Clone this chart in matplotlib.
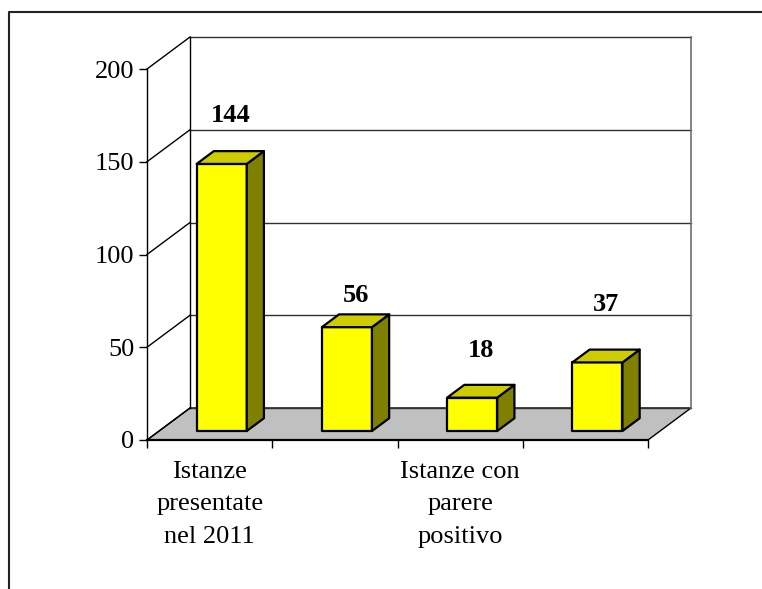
import matplotlib
matplotlib.use("Agg")
import matplotlib.pyplot as plt
from matplotlib.patches import Polygon
from matplotlib.lines import Line2D

# data
categories = ["Istanze\npresentate\nnel 2011", "", "Istanze con\nparere\npositivo", ""]
values = [144, 56, 18, 37]
y_ticks = [0, 50, 100, 150, 200]
label_nudge = [19, 10, 18.5, 24]

plt.rcParams['font.family'] = ['Liberation Serif', 'DejaVu Serif']

W, H = 762, 589
fig = plt.figure(figsize=(W / 100, H / 100), dpi=100)
ax = fig.add_axes([147 / W, 149 / H, 501 / W, 371 / H])
ax.set_xlim(0, len(values))
ax.set_ylim(0, 200)

# depth of the 3D box (in data units)
dx = 43 / 125.25
dy = 32 / 1.855

# floor
ax.add_patch(Polygon([(0, 0), (dx, dy), (4 + dx, dy), (4, 0)], closed=True,
                     facecolor='#C0C0C0', edgecolor='black', lw=1, clip_on=False, zorder=1))

# back wall + left wall grid lines
for v in y_ticks:
    ax.plot([dx, 4 + dx], [v + dy, v + dy], color='#303030', lw=1, clip_on=False, zorder=1)
    ax.plot([0, dx], [v, v + dy], color='black', lw=1, clip_on=False, zorder=1)
ax.plot([dx, dx], [dy, 200 + dy], color='black', lw=1, clip_on=False, zorder=1)
ax.plot([4 + dx, 4 + dx], [dy, 200 + dy], color='#707070', lw=1.2, clip_on=False, zorder=1)

# bars
front = 0.28   # depth position of bar front
bdepth = 0.4   # bar depth fraction
bw = 0.4       # bar width
bdx, bdy = dx * bdepth, dy * bdepth
ox, oy = dx * front, dy * front
for i, v in enumerate(values):
    x0 = i + 0.5 - bw / 2 + ox
    x1 = x0 + bw
    y0 = oy
    y1 = v + oy
    kw = dict(closed=True, edgecolor='black', lw=1.6, joinstyle='round', clip_on=False, zorder=3)
    ax.add_patch(Polygon([(x0, y0), (x0, y1), (x1, y1), (x1, y0)], facecolor='#FFFF00', **kw))
    ax.add_patch(Polygon([(x1, y0), (x1 + bdx, y0 + bdy), (x1 + bdx, y1 + bdy), (x1, y1)],
                         facecolor='#808000', **kw))
    ax.add_patch(Polygon([(x0, y1), (x0 + bdx, y1 + bdy), (x1 + bdx, y1 + bdy), (x1, y1)],
                         facecolor='#CCCC00', **kw))
    ax.text(i + 0.5 + ox + bdx / 2, v + oy + bdy / 2 + label_nudge[i], str(v),
            ha='center', va='baseline', fontsize=19, fontweight='bold', zorder=4)

# axes
for s in ['top', 'right']:
    ax.spines[s].set_visible(False)
ax.spines['left'].set_linewidth(1)
ax.spines['bottom'].set_linewidth(1.6)
ax.spines['left'].set_zorder(2)
ax.spines['bottom'].set_zorder(2)

ax.set_yticks(y_ticks)
ax.tick_params(axis='y', direction='out', length=6, width=1, pad=3, labelsize=19)
ax.set_xticks(range(len(values) + 1))
ax.set_xticklabels([])
ax.tick_params(axis='x', which='major', direction='out', length=6, width=1)
ax.set_xticks([i + 0.5 for i in range(len(values))], minor=True)
ax.set_xticklabels(categories, minor=True, fontsize=19, linespacing=1.62)
ax.tick_params(axis='x', which='minor', length=0, pad=15)
ax.patch.set_visible(False)

# outer chart border
fig.add_artist(Line2D([9 / W, 9 / W, 1], [0, 1 - 12 / H, 1 - 12 / H],
                      transform=fig.transFigure, color='#222222', lw=1.5))

fig.savefig("out.png", dpi=100)
